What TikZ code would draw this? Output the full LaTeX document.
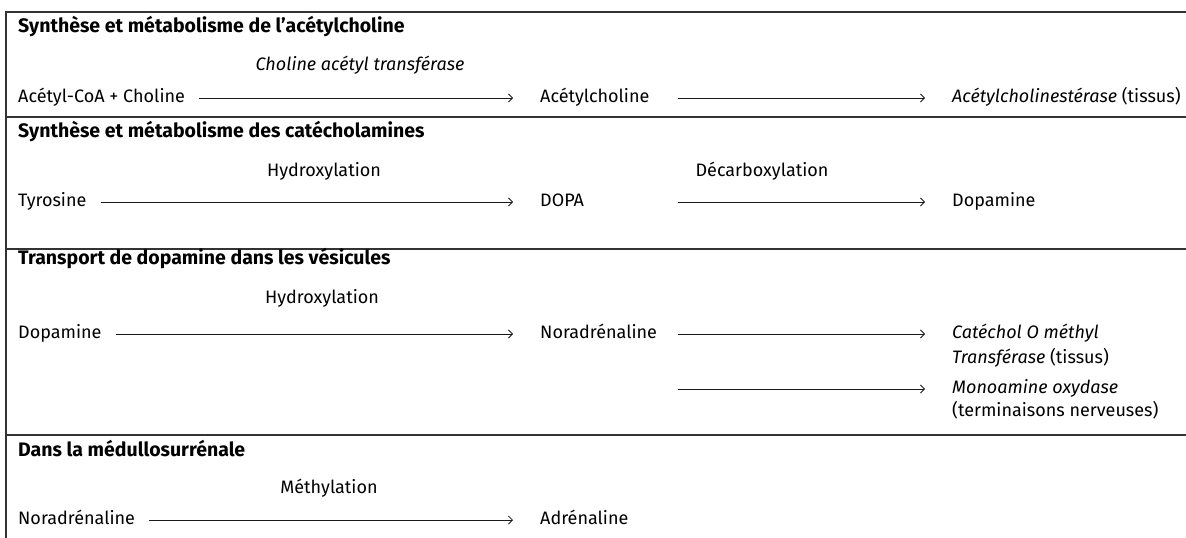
\documentclass[tikz,border=0pt]{standalone}
\usepackage{fontspec}
\setmainfont{Fira Sans}
\usetikzlibrary{arrows.meta}

\begin{document}
\begin{tikzpicture}[x=1pt,y=-1pt,inner sep=0pt,
	font=\fontsize{18}{23}\selectfont,
	titre/.style={anchor=west,text height=13.5pt,text depth=4.5pt,font=\fontsize{19.5}{23}\selectfont\bfseries},
	terme/.style={anchor=west,text height=13.5pt,text depth=4.5pt},
	enzyme/.style={anchor=center},
	fleche/.style={-{Straight Barb[length=4pt,width=8pt]},line width=0.8pt,draw=black!90,shorten <=14pt,shorten >=27pt},
	sortie/.style={-{Straight Barb[length=4pt,width=8pt]},line width=0.8pt,draw=black!90},
	cadre/.style={line width=1.3pt,draw=black!80}]
	\useasboundingbox (0,0) rectangle (1186,538);
	% cadre
	\draw[cadre] (1186,12) -- (6,12) -- (6,538);
	\foreach \y in {117,249,435} \draw[cadre] (6,\y) -- (1186,\y);
	% acetylcholine
	\node[titre]	(t1)	at (18,28)	{Synthèse et métabolisme de l’acétylcholine};
	\node[terme]	(acoa)	at (18,98)	{Acétyl-CoA + Choline};
	\node[terme]	(ach)	at (540,98)	{Acétylcholine};
	\node[terme]	(ache)	at (952,98)	{\textit{Acétylcholinestérase} (tissus)};
	\node[enzyme]	(chat)	at (360,65)	{\textit{Choline acétyl transférase}};
	\draw[fleche] (acoa) -- (ach);
	\draw[sortie] ([xshift=-274pt]ache.west) -- ([xshift=-27pt]ache.west);
	% catecholamines
	\node[titre]	(t2)	at (18,133)	{Synthèse et métabolisme des catécholamines};
	\node[terme]	(tyr)	at (18,202)	{Tyrosine};
	\node[terme]	(dopa)	at (540,202)	{DOPA};
	\node[terme]	(dop)	at (952,202)	{Dopamine};
	\node[enzyme]	(hyd1)	at (324,171)	{Hydroxylation};
	\node[enzyme]	(dec)	at (762,171)	{Décarboxylation};
	\draw[fleche] (tyr) -- (dopa);
	\draw[sortie] ([xshift=-274pt]dop.west) -- ([xshift=-27pt]dop.west);
	% vesicules
	\node[titre]	(t3)	at (18,260)	{Transport de dopamine dans les vésicules};
	\node[terme]	(dopv)	at (18,334)	{Dopamine};
	\node[terme]	(nor)	at (540,334)	{Noradrénaline};
	\node[terme]	(comt)	at (952,334)	{\textit{Catéchol O méthyl}};
	\node[terme]	(comtb)	at (952,359)	{\textit{Transférase} (tissus)};
	\node[terme]	(mao)	at (952,389)	{\textit{Monoamine oxydase}};
	\node[terme]	(maob)	at (952,412)	{(terminaisons nerveuses)};
	\node[enzyme]	(hyd2)	at (322,298)	{Hydroxylation};
	\draw[fleche] (dopv) -- (nor);
	\draw[sortie] ([xshift=-274pt]comt.west) -- ([xshift=-27pt]comt.west);
	\draw[sortie] ([xshift=-274pt]mao.west) -- ([xshift=-27pt]mao.west);
	% medullosurrenale
	\node[titre]	(t4)	at (18,452)	{Dans la médullosurrénale};
	\node[terme]	(nor2)	at (18,520)	{Noradrénaline};
	\node[terme]	(adr)	at (540,520)	{Adrénaline};
	\node[enzyme]	(met)	at (329,488)	{Méthylation};
	\draw[fleche] (nor2) -- (adr);
\end{tikzpicture}
\end{document}
